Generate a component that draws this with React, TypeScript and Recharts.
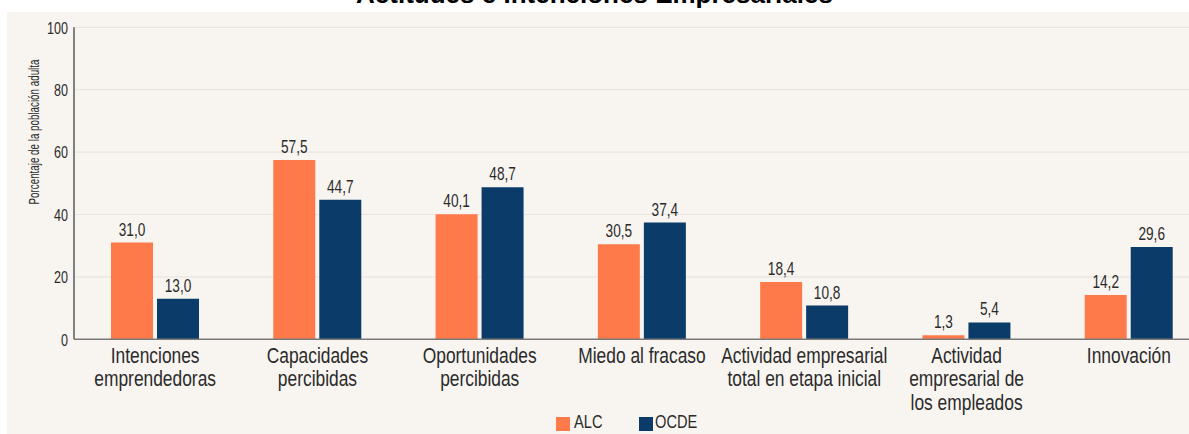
import React from 'react';
import { BarChart, Bar, XAxis, YAxis, CartesianGrid, LabelList, Legend } from 'recharts';

const categories = [
  'Intenciones\nemprendedoras',
  'Capacidades\npercibidas',
  'Oportunidades\npercibidas',
  'Miedo al fracaso',
  'Actividad empresarial\ntotal en etapa inicial',
  'Actividad\nempresarial de\nlos empleados',
  'Innovación',
];
const alcValues = [31.0, 57.5, 40.1, 30.5, 18.4, 1.3, 14.2];
const ocdeValues = [13.0, 44.7, 48.7, 37.4, 10.8, 5.4, 29.6];
const yTicks = [0, 20, 40, 60, 80, 100];
const seriesNames = { alc: 'ALC', ocde: 'OCDE' };
const colors = { alc: '#FF7A4A', ocde: '#0B3C69' };

const data = categories.map((c, i) => ({ name: c, alc: alcValues[i], ocde: ocdeValues[i] }));

const FONT = "'Liberation Sans', Arial, sans-serif";
const TXT = '#2b2b2b';
const fmt = (v: number) => v.toFixed(1).replace('.', ',');

const CondText = ({ x, y, anchor = 'middle', size, sx = 0.8, children, rotate = 0 }: any) => (
  <text
    transform={`translate(${x},${y}) rotate(${rotate}) scale(${sx},1)`}
    x={0}
    y={0}
    textAnchor={anchor}
    fill={TXT}
    fontSize={size}
    fontFamily={FONT}
  >
    {children}
  </text>
);

const XTick = (props: any) => {
  const { x, y, payload } = props;
  const lines = String(payload.value).split('\n');
  return (
    <g>
      {lines.map((l, i) => (
        <CondText key={i} x={x} y={y + 23.6 + i * 23.3} size={22} sx={0.79}>{l}</CondText>
      ))}
    </g>
  );
};

const YTick = (props: any) => {
  const { x, y, payload } = props;
  return <CondText x={x} y={y + 6.2} anchor="end" size={17} sx={0.74}>{payload.value}</CondText>;
};

const ValueLabel = (props: any) => {
  const { x, y, width, value } = props;
  return (
    <CondText x={Number(x) + Number(width) / 2} y={Number(y) - 7} size={17.5} sx={0.78}>
      {fmt(Number(value))}
    </CondText>
  );
};

const LegendContent = () => (
  <div style={{ position: 'relative', width: 200, height: 20, fontFamily: FONT, fontSize: 19, color: TXT }}>
    {[
      { key: 'alc', x: 0, tx: 18 },
      { key: 'ocde', x: 83, tx: 99 },
    ].map((it) => (
      <React.Fragment key={it.key}>
        <div style={{ position: 'absolute', left: it.x, top: 3, width: 14, height: 14, background: (colors as any)[it.key] }} />
        <div
          style={{
            position: 'absolute', left: it.tx, top: -3, lineHeight: '22px', whiteSpace: 'nowrap',
            transform: 'scaleX(0.77)', transformOrigin: 'left center',
          }}
        >
          {(seriesNames as any)[it.key]}
        </div>
      </React.Fragment>
    ))}
  </div>
);

export default function App() {
  return (
    <div style={{ position: 'fixed', left: 0, top: 0, width: 1189, height: 434, overflow: 'hidden', background: '#ffffff' }}>
      <div style={{ position: 'absolute', left: 7, top: 12, width: 1182, height: 422, background: '#F8F5F1' }} />
      <div
        style={{
          position: 'absolute', left: 0, width: 1189, top: -21, textAlign: 'center',
          fontFamily: "'Liberation Sans', Arial, sans-serif", fontWeight: 700, fontSize: 26, lineHeight: '30px', color: '#000',
        }}
      >
        Actitudes e Intenciones Empresariales
      </div>
      <div style={{ position: 'absolute', left: 0, top: 0 }}>
        <BarChart
          width={1230}
          height={434}
          data={data}
          margin={{ top: 27.3, right: 20, bottom: 44.7, left: 0 }}
          barSize={42}
          barGap={4}
        >
          <CartesianGrid vertical={false} stroke="#E8E4DF" strokeWidth={1.2} />
          <XAxis
            dataKey="name"
            height={30}
            tick={<XTick />}
            tickLine={false}
            tickSize={0}
            tickMargin={0}
            interval={0}
            stroke="#7a7a7a"
            strokeWidth={1.5}
          />
          <YAxis
            width={74}
            domain={[0, 100]}
            ticks={yTicks}
            tickLine={false}
            tickSize={0}
            tickMargin={6}
            stroke="#5a5a5a"
            strokeWidth={1.5}
            tick={<YTick />}
            label={{
              content: () => (
                <CondText x={39.3} y={132} rotate={-90} size={14} sx={0.7}>
                  Porcentaje de la población adulta
                </CondText>
              ),
            }}
          />
          <Legend
            layout="vertical"
            align="center"
            verticalAlign="bottom"
            content={<LegendContent />}
            wrapperStyle={{ position: 'absolute', left: 556, top: 414, width: 200, height: 20 }}
          />
          <Bar dataKey="alc" name={seriesNames.alc} fill={colors.alc} isAnimationActive={false}>
            <LabelList dataKey="alc" content={<ValueLabel />} />
          </Bar>
          <Bar dataKey="ocde" name={seriesNames.ocde} fill={colors.ocde} isAnimationActive={false}>
            <LabelList dataKey="ocde" content={<ValueLabel />} />
          </Bar>
        </BarChart>
      </div>
    </div>
  );
}
